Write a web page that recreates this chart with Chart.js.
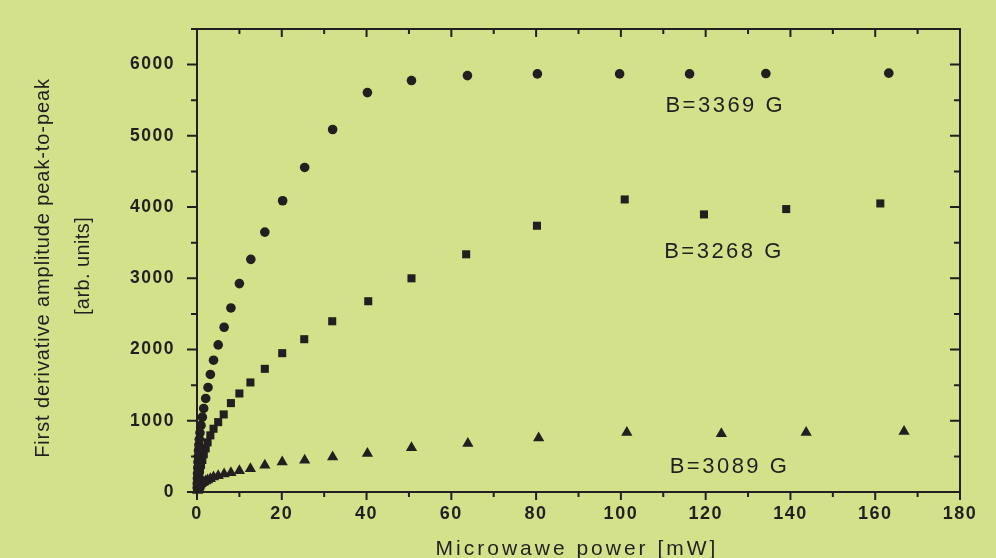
<!DOCTYPE html>
<html>
<head>
<meta charset="utf-8">
<script src="https://cdn.jsdelivr.net/npm/chart.js@4.4.1/dist/chart.umd.min.js"></script>
<style>
  html, body { margin: 0; padding: 0; background: #d3e28a; }
  #wrap { width: 996px; height: 558px; }
</style>
</head>
<body>
<div id="wrap"><canvas id="chart" width="996" height="558"></canvas></div>
<script>
// ── DATA ───────────────────────────────────────────────────
// B = 3369 G  (circles)
const powerHigh = [0.05, 0.07, 0.10, 0.13, 0.17, 0.22, 0.28, 0.35, 0.45, 0.55, 0.7, 0.95, 1.26, 1.58, 2.05, 2.6, 3.15, 3.9, 5.0, 6.4, 8.0, 10.0, 12.7, 16.0, 20.2, 25.4, 32.0, 40.2, 50.6, 63.8, 80.3, 99.7, 116.2, 134.2, 163.2];
const ampHigh   = [60, 120, 190, 260, 340, 420, 500, 580, 660, 740, 831, 935, 1051, 1173, 1313, 1468, 1650, 1850, 2065, 2313, 2584, 2926, 3266, 3649, 4089, 4556, 5089, 5607, 5776, 5846, 5870, 5870, 5870, 5875, 5880];

// B = 3268 G  (squares)
const powerMid = [0.17, 0.22, 0.28, 0.35, 0.45, 0.55, 0.7, 0.95, 1.26, 1.6, 2.05, 2.5, 3.15, 3.9, 5.0, 6.3, 8.0, 10.0, 12.6, 16.0, 20.1, 25.3, 31.9, 40.4, 50.6, 63.5, 80.2, 100.9, 119.6, 139.0, 161.2];
const ampMid   = [45, 75, 110, 150, 200, 250, 310, 380, 450, 530, 612, 697, 795, 888, 981, 1089, 1248, 1383, 1538, 1729, 1949, 2145, 2397, 2678, 3000, 3337, 3738, 4107, 3897, 3972, 4051];

// B = 3089 G  (triangles)
const powerLow = [0.17, 0.22, 0.28, 0.35, 0.45, 0.55, 0.7, 0.95, 1.26, 1.6, 2.05, 2.5, 3.15, 3.9, 5.0, 6.4, 8.0, 10.0, 12.6, 16.0, 20.1, 25.4, 32.0, 40.2, 50.6, 63.9, 80.6, 101.4, 123.7, 143.7, 166.8];
const ampLow   = [20, 30, 40, 55, 70, 85, 100, 115, 130, 140, 154, 168, 187, 210, 229, 252, 271, 299, 327, 374, 420, 445, 490, 540, 621, 682, 757, 837, 817, 837, 851];

// tick labels
const xTicks = [0, 20, 40, 60, 80, 100, 120, 140, 160, 180];
const yTicks = [0, 1000, 2000, 3000, 4000, 5000, 6000];

const seriesLabels = ['B=3369 G', 'B=3268 G', 'B=3089 G'];
// where each label sits, in data units (left edge x, baseline y)
const labelX = [110.5, 110.2, 111.5];
const labelY = [5331, 3290, 262];

const BG  = '#d3e28a';
const INK = '#231f20';
const FONT = "'Liberation Sans', Arial, sans-serif";

const toPoints = (xs, ys) => xs.map((x, i) => ({ x, y: ys[i] }));

// ── FRAME + TICK MARKS (all four sides) ─────────────────────
const frameTicks = {
  id: 'frameTicks',
  beforeDraw(chart) {
    chart.ctx.letterSpacing = '1.5px';
  },
  beforeDatasetsDraw(chart) {
    const { ctx, chartArea: a, scales: { x, y } } = chart;
    ctx.save();
    ctx.strokeStyle = INK;
    ctx.lineWidth = 2;
    ctx.strokeRect(a.left, a.top, a.right - a.left, a.bottom - a.top);
    ctx.beginPath();
    for (let v = x.min; v <= x.max; v += 10) {
      const px = x.getPixelForValue(v);
      const len = v % 20 === 0 ? 8 : 5;
      ctx.moveTo(px, a.bottom); ctx.lineTo(px, a.bottom + len);   // outward
      ctx.moveTo(px, a.top);    ctx.lineTo(px, a.top + len);      // inward
    }
    for (let v = y.min; v <= y.max; v += 500) {
      const py = y.getPixelForValue(v);
      const len = v % 1000 === 0 ? 10 : 6;
      ctx.moveTo(a.left, py);  ctx.lineTo(a.left - len, py);      // outward
      ctx.moveTo(a.right, py); ctx.lineTo(a.right - len, py);     // inward
    }
    ctx.stroke();
    ctx.restore();
  },
  afterDraw(chart) {
    const { ctx, scales: { x, y } } = chart;
    ctx.save();
    ctx.fillStyle = INK;

    // y title (two lines, rotated)
    ctx.save();
    ctx.translate(49, 268);
    ctx.rotate(-Math.PI / 2);
    ctx.textAlign = 'center';
    ctx.textBaseline = 'alphabetic';
    ctx.font = `20px ${FONT}`;
    ctx.letterSpacing = '0.9px';
    ctx.fillText('First derivative amplitude peak-to-peak', 0, 0);
    ctx.restore();

    ctx.save();
    ctx.translate(89, 266);
    ctx.rotate(-Math.PI / 2);
    ctx.textAlign = 'center';
    ctx.font = `20px ${FONT}`;
    ctx.letterSpacing = '0.4px';
    ctx.fillText('[arb. units]', 0, 0);
    ctx.restore();

    // x title
    ctx.textAlign = 'center';
    ctx.textBaseline = 'alphabetic';
    ctx.font = `21px ${FONT}`;
    ctx.letterSpacing = '3px';
    ctx.fillText('Microwawe power [mW]', 577, 555);

    // series labels
    ctx.textAlign = 'left';
    ctx.font = `22px ${FONT}`;
    ctx.letterSpacing = '2.5px';
    seriesLabels.forEach((t, i) => {
      ctx.fillText(t, x.getPixelForValue(labelX[i]), y.getPixelForValue(labelY[i]));
    });
    ctx.restore();
  }
};

const marker = (label, data, style, radius) => ({
  label, data,
  pointStyle: style,
  pointRadius: radius,
  pointHoverRadius: radius,
  pointBackgroundColor: INK,
  pointBorderColor: INK,
  pointBorderWidth: 0,
  showLine: false,
  clip: false
});

new Chart(document.getElementById('chart').getContext('2d'), {
  type: 'scatter',
  data: {
    datasets: [
      marker(seriesLabels[0], toPoints(powerHigh, ampHigh), 'circle', 4.8),
      marker(seriesLabels[1], toPoints(powerMid, ampMid), 'rect', 5.7),
      marker(seriesLabels[2], toPoints(powerLow, ampLow), 'triangle', 6.5)
    ]
  },
  options: {
    responsive: false,
    animation: false,
    devicePixelRatio: 1,
    layout: { padding: { top: 29, right: 36, left: 0, bottom: 0 } },
    plugins: {
      legend: { display: false },
      tooltip: { enabled: false }
    },
    scales: {
      x: {
        type: 'linear',
        min: 0, max: 180,
        grid: { display: false, drawTicks: false },
        border: { display: false },
        ticks: {
          autoSkip: false,
          maxRotation: 0,
          color: INK,
          padding: 11,
          font: { family: FONT, size: 18, weight: 'bold' },
          callback: v => String(v)
        },
        afterBuildTicks: s => { s.ticks = xTicks.map(value => ({ value })); },
        afterFit: s => { s.height = 66; s.paddingLeft = 0; s.paddingRight = 0; }
      },
      y: {
        type: 'linear',
        min: 0, max: 6500,
        grid: { display: false, drawTicks: false },
        border: { display: false },
        ticks: {
          autoSkip: false,
          color: INK,
          padding: 22,
          font: { family: FONT, size: 17.5, weight: 'bold' },
          callback: v => String(v)
        },
        afterBuildTicks: s => { s.ticks = yTicks.map(value => ({ value })); },
        afterFit: s => { s.width = 197; s.paddingTop = 0; s.paddingBottom = 0; }
      }
    }
  },
  plugins: [frameTicks]
});
</script>
</body>
</html>
